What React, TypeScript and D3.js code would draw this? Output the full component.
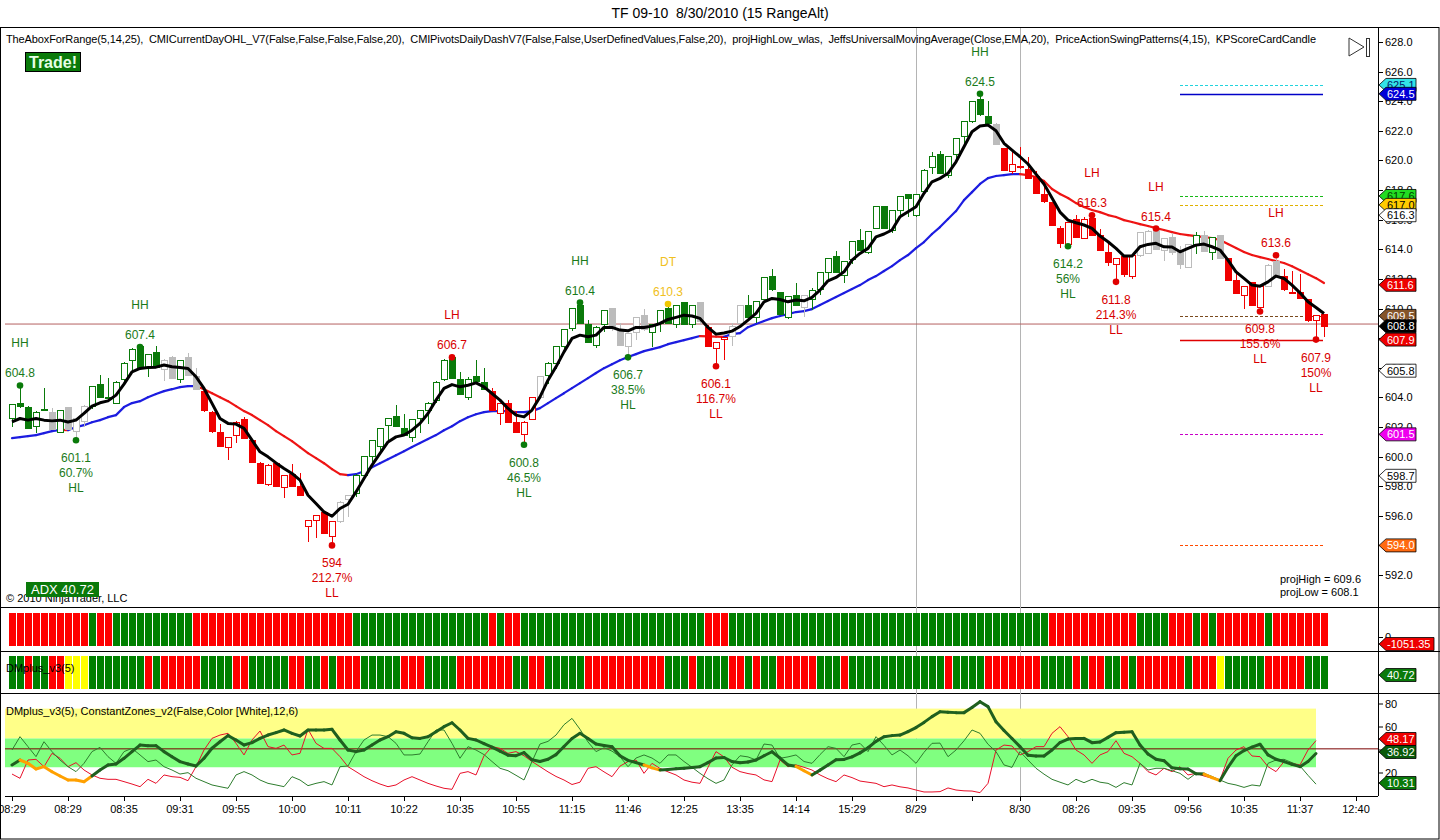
import * as d3 from 'd3';

const FONT = "'Liberation Sans', Arial, sans-serif";

// range bars, one value per bar (165 bars)
const opens = [
  602.6, 603.6, 603.3, 602.0, 603.2, 603.0, 601.6, 603.3, 601.7, 602.4,
  603.4, 604.9, 603.9, 603.6, 605.2, 606.5, 607.4, 606.0, 607.0, 605.9,
  606.7, 605.2, 606.7, 605.4, 604.4, 603.0, 601.6, 600.6, 601.4, 602.5,
  601.1, 599.5, 598.1, 599.5, 597.9, 598.8, 598.0, 595.3, 595.7, 596.2,
  594.6, 595.6, 597.1, 597.5, 598.75, 600.0, 600.7, 602.1, 602.7, 601.9,
  601.3, 602.6, 603.1, 603.8, 605.2, 606.7, 605.2, 604.0, 605.4, 605.0,
  604.4, 602.9, 603.6, 602.3, 601.5, 602.5, 604.0, 605.5, 606.3, 607.4,
  608.65, 610.2, 608.9, 607.5, 608.9, 610.0, 608.6, 607.45, 608.4, 609.5,
  608.4, 609.0, 610.0, 608.9, 610.4, 608.9, 610.4, 608.7, 607.3, 607.9,
  608.1, 609.0, 610.2, 609.4, 610.6, 612.15, 611.1, 609.4, 610.9, 610.1,
  610.6, 611.25, 612.4, 613.5, 612.25, 613.3, 614.6, 613.8, 615.4, 616.9,
  615.25, 616.65, 617.7, 616.25, 617.9, 619.5, 620.4, 619.0, 620.4, 621.6,
  622.6, 624.1, 623.0, 622.45, 620.8, 619.25, 619.6, 619.4, 618.9, 617.7,
  617.15, 615.4, 614.3, 616.0, 614.7, 616.1, 614.9, 613.8, 613.0, 613.5,
  612.15, 613.55, 613.7, 615.3, 613.95, 614.8, 613.8, 612.8, 614.35, 614.95,
  613.8, 614.9, 613.4, 611.9, 610.85, 611.75, 610.1, 611.5, 613.15, 612.15,
  611.1, 611.05, 610.6, 609.2, 609.6,
];
const highs = [
  603.5, 604.8, 603.4, 603.1, 604.6, 603.3, 603.1, 603.3, 602.6, 603.5,
  604.7, 605.5, 605.3, 605.1, 606.4, 607.3, 607.4, 606.9, 607.5, 606.6,
  606.8, 606.5, 607.0, 606.0, 604.5, 603.1, 602.2, 601.3, 602.4, 602.7,
  601.2, 599.6, 599.5, 599.5, 598.7, 599.5, 598.9, 595.7, 596.0, 596.3,
  595.6, 597.0, 597.4, 598.8, 600.0, 601.1, 601.9, 602.6, 603.5, 602.9,
  602.5, 603.1, 603.7, 605.1, 606.6, 606.7, 605.7, 605.4, 606.5, 606.0,
  604.6, 603.6, 603.8, 603.1, 602.4, 604.0, 605.4, 606.4, 607.4, 608.6,
  610.0, 610.4, 609.2, 608.8, 609.9, 610.0, 609.0, 608.3, 609.4, 610.0,
  608.9, 609.9, 610.3, 610.2, 610.4, 610.2, 610.4, 608.9, 607.7, 608.1,
  609.0, 610.2, 610.9, 610.5, 612.1, 612.7, 611.1, 610.8, 611.7, 610.9,
  611.4, 612.4, 613.4, 613.9, 613.2, 614.5, 615.4, 615.2, 616.9, 616.9,
  616.6, 617.6, 617.7, 617.7, 619.4, 620.6, 620.65, 620.3, 621.5, 622.6,
  624.0, 624.5, 624.0, 622.55, 620.8, 620.6, 620.9, 620.25, 619.3, 618.6,
  617.15, 615.6, 615.8, 616.3, 616.2, 616.3, 615.4, 614.4, 613.4, 613.6,
  613.6, 615.1, 615.3, 615.4, 614.7, 615.1, 614.2, 614.3, 615.2, 615.25,
  614.8, 614.9, 613.4, 612.5, 611.5, 611.75, 611.5, 613.0, 613.6, 612.7,
  612.5, 612.3, 610.6, 609.5, 609.6,
];
const lows = [
  602.0, 603.3, 601.9, 601.6, 603.1, 601.8, 601.6, 601.8, 601.1, 602.0,
  603.2, 604.0, 603.8, 603.6, 604.9, 605.8, 606.0, 605.4, 606.0, 605.1,
  605.3, 605.0, 605.5, 604.5, 603.0, 601.6, 600.7, 599.8, 600.9, 601.2,
  599.6, 598.2, 598.0, 598.0, 597.2, 598.0, 597.4, 594.2, 594.5, 594.8,
  594.0, 595.5, 595.9, 597.3, 598.5, 599.6, 600.4, 601.1, 602.0, 601.4,
  601.0, 601.6, 602.2, 603.6, 605.1, 605.3, 604.2, 603.8, 605.0, 604.5,
  603.1, 602.1, 602.3, 601.6, 600.8, 602.5, 603.9, 604.9, 605.9, 607.1,
  608.5, 609.0, 607.7, 607.3, 608.4, 608.5, 607.5, 606.7, 607.9, 608.5,
  607.4, 608.4, 609.0, 608.7, 608.9, 608.7, 608.9, 607.4, 606.1, 606.5,
  607.5, 608.7, 609.4, 609.0, 610.6, 611.2, 609.6, 609.3, 610.2, 609.4,
  609.9, 610.9, 611.9, 612.4, 611.7, 613.0, 613.9, 613.7, 615.4, 615.4,
  615.1, 616.1, 616.2, 616.2, 617.9, 619.1, 619.1, 618.8, 620.0, 621.1,
  622.5, 623.0, 622.5, 621.05, 619.3, 619.1, 619.4, 618.75, 617.8, 617.1,
  615.6, 614.1, 614.2, 614.8, 614.7, 614.9, 613.9, 612.9, 611.8, 612.1,
  612.0, 613.5, 613.7, 614.0, 613.2, 613.6, 612.7, 612.8, 613.7, 613.85,
  613.3, 613.4, 611.9, 611.0, 610.0, 610.2, 609.8, 611.5, 612.1, 611.2,
  611.0, 610.7, 609.1, 607.9, 608.1,
];
const closes = [
  603.5, 603.4, 601.9, 603.0, 603.1, 601.8, 603.1, 601.8, 602.6, 603.4,
  604.7, 604.0, 604.0, 605.0, 606.3, 607.2, 606.0, 606.9, 606.0, 606.5,
  605.3, 606.5, 605.5, 604.5, 603.1, 601.7, 600.7, 601.3, 602.3, 601.2,
  599.6, 598.2, 599.4, 598.0, 598.7, 598.0, 597.4, 595.7, 596.0, 594.8,
  595.6, 596.9, 597.4, 598.75, 600.0, 601.1, 601.9, 602.6, 602.0, 601.4,
  602.5, 603.1, 603.6, 605.0, 606.5, 605.3, 604.2, 605.2, 605.05, 604.5,
  603.1, 603.6, 602.3, 601.6, 602.3, 604.0, 605.4, 606.3, 607.4, 608.6,
  610.0, 609.0, 607.7, 608.7, 609.85, 608.65, 607.5, 608.3, 609.4, 608.55,
  608.9, 609.85, 609.0, 610.2, 608.9, 610.2, 609.1, 607.4, 607.7, 608.05,
  608.8, 610.2, 609.4, 610.5, 612.1, 611.25, 609.6, 610.8, 610.2, 610.9,
  611.2, 612.4, 613.4, 612.4, 613.15, 614.5, 613.9, 615.2, 616.9, 615.4,
  616.6, 617.55, 617.4, 617.7, 619.35, 620.25, 619.1, 620.25, 621.5, 622.6,
  624.0, 623.1, 622.5, 621.05, 619.3, 619.7, 619.5, 618.8, 617.8, 617.2,
  615.6, 614.4, 615.8, 614.8, 616.0, 614.9, 613.9, 613.1, 613.4, 612.3,
  613.55, 615.1, 615.2, 614.0, 614.7, 613.8, 612.95, 614.3, 614.9, 613.85,
  614.8, 613.4, 611.9, 611.0, 611.5, 610.2, 611.5, 612.9, 612.1, 611.25,
  611.05, 610.7, 609.2, 609.5, 608.8,
];
// candle colour per bar: G green, R red, N neutral grey
const candleColors = [
  'GGGGGNGNNN', 'GGGGGGGGGN', 'NGNNRRRRRR', 'RRRRRRRRRR', 'RNNGGGGGGG',
  'GGGGGGGGGG', 'RRRRRRNGGG', 'GGGGGNNNNN', 'GGGGGGNRRR', 'NNGGGGGGGN',
  'GGGGGGGGGG', 'GGGGGGGGGG', 'GGGNRRRRRR', 'RRRRRRRRRR', 'RNNNNNNNGN',
  'GNRRRRRNNR', 'RRRRR',
].join('');

const fastMa = [
  602.34, 602.57, 602.46, 602.57, 602.46, 602.41, 602.46, 602.34, 602.46, 602.91,
  603.41, 603.63, 603.76, 604.15, 604.89, 605.72, 605.95, 606.02, 606.04, 606.18,
  606.06, 606.02, 605.95, 605.39, 604.60, 603.59, 602.57, 602.24, 602.19, 601.90,
  601.11, 600.32, 599.98, 599.57, 599.20, 598.86, 598.41, 597.39, 596.83, 596.26,
  595.97, 596.49, 596.78, 597.61, 598.52, 599.42, 600.21, 600.99, 601.33, 601.45,
  601.78, 602.24, 602.91, 603.81, 604.60, 604.86, 604.71, 604.82, 604.98, 604.71,
  604.26, 603.81, 603.25, 602.80, 602.68, 603.14, 604.03, 605.16, 606.06, 607.07,
  607.98, 608.20, 608.09, 608.20, 608.72, 608.72, 608.54, 608.49, 608.72, 608.72,
  608.81, 608.99, 609.26, 609.40, 609.55, 609.49, 609.33, 608.72, 608.27, 608.34,
  608.47, 608.78, 609.22, 609.67, 610.45, 610.68, 610.61, 610.45, 610.57, 610.52,
  610.75, 611.24, 611.87, 612.10, 612.48, 613.27, 613.72, 614.06, 614.84, 615.03,
  615.30, 616.20, 616.53, 616.87, 617.78, 618.56, 618.79, 619.13, 619.91, 620.93,
  621.94, 622.32, 622.39, 622.01, 621.16, 620.70, 620.25, 619.76, 619.08, 618.41,
  617.46, 616.51, 615.97, 615.79, 615.64, 615.41, 614.89, 614.51, 614.06, 613.54,
  613.54, 614.17, 614.33, 614.40, 614.17, 614.15, 613.83, 614.06, 614.28, 614.35,
  614.17, 613.95, 613.27, 612.48, 612.03, 611.58, 611.51, 611.80, 612.19, 612.03,
  611.58, 611.06, 610.45, 610.07, 609.66,
];
const ema20 = [
  601.24, 601.31, 601.38, 601.45, 601.58, 601.72, 601.80, 601.78, 601.99, 602.12,
  602.32, 602.46, 602.66, 602.80, 603.34, 603.61, 603.74, 604.01, 604.22, 604.42,
  604.55, 604.69, 604.76, 604.76, 604.55, 604.28, 604.01, 603.74, 603.41, 603.07,
  602.80, 602.46, 602.12, 601.72, 601.38, 601.04, 600.64, 600.23, 599.89, 599.55,
  599.15, 598.81, 598.74, 598.81, 599.01, 599.28, 599.55, 599.82, 600.09, 600.36,
  600.64, 600.91, 601.18, 601.45, 601.78, 602.05, 602.39, 602.66, 602.86, 603.00,
  603.07, 603.07, 603.07, 603.00, 603.00, 603.07, 603.27, 603.61, 603.95, 604.28,
  604.62, 604.96, 605.30, 605.64, 605.97, 606.24, 606.51, 606.72, 606.92, 607.12,
  607.26, 607.39, 607.59, 607.73, 607.86, 608.00, 608.14, 608.12, 608.10, 608.09,
  608.27, 608.34, 608.74, 608.95, 609.15, 609.35, 609.49, 609.62, 609.76, 609.82,
  609.96, 610.23, 610.50, 610.77, 611.04, 611.31, 611.58, 611.92, 612.19, 612.53,
  612.86, 613.27, 613.61, 614.08, 614.49, 615.03, 615.50, 616.04, 616.58, 617.32,
  617.86, 618.41, 618.81, 618.95, 619.01, 619.08, 619.08, 619.01, 618.88, 618.61,
  618.07, 617.73, 617.46, 617.12, 616.85, 616.65, 616.51, 616.31, 616.18, 615.97,
  615.84, 615.70, 615.57, 615.43, 615.30, 615.16, 615.03, 614.96, 614.89, 614.82,
  614.76, 614.62, 614.35, 614.08, 613.81, 613.61, 613.47, 613.34, 613.20, 613.07,
  612.86, 612.59, 612.32, 612.05, 611.72,
];

// lower panels
const aboxColors = [
  'RRRRRRRRRR', 'GRRGGGGGGG', 'GGGRRRRRRR', 'RRRRRRRRRR', 'RRRGGGGGGG',
  'GGGGGGGGGG', 'RGRRGGGGGG', 'GGGGGGGGGG', 'GGGGGGGRRR', 'GGGGGGGGGG',
  'GGGGGGGGGG', 'GGGGGGGGGG', 'GGGGGGGGGG', 'RRRRRRRRRR', 'RGGGGRRRGR',
  'GRRRRRRGRR', 'RRRRR',
].join('');
const dmColors = [
  'GGRGGRRYYY', 'GGGGGGGRGR', 'RRRRGGGGRR', 'GGGGGRRGGR', 'GRRRGGGGGR',
  'RRGGGGRRRR', 'RRRGGRRGGG', 'GGRRRRRRRR', 'RRGGGRGGGG', 'RRGRGGRRRR',
  'RGGGRGGGGG', 'GGGGGGGRGG', 'GGRRRRRRRG', 'GGGRGRRGGR', 'GRRRRRRGRR',
  'RYGGGGGRRR', 'RRGGG',
].join('');

const adx = [
  27.0, 31.3, 28.4, 23.5, 25.5, 21.1, 17.4, 13.9, 13.9, 12.4,
  17.4, 22.6, 27.0, 27.8, 32.8, 38.6, 44.3, 43.8, 43.8, 38.6,
  34.2, 29.9, 27.8, 26.1, 32.8, 41.5, 47.2, 52.5, 48.7, 44.3,
  46.4, 50.1, 53.0, 55.1, 57.4, 54.5, 52.2, 57.4, 57.4, 57.4,
  58.0, 48.7, 40.0, 38.6, 40.0, 44.3, 48.7, 51.6, 55.9, 54.5,
  50.7, 50.1, 51.6, 55.9, 60.3, 63.7, 57.4, 50.1, 48.7, 45.5,
  42.5, 39.0, 35.5, 35.1, 37.7, 31.5, 30.0, 32.0, 36.0, 43.0,
  50.0, 54.5, 50.0, 45.2, 44.0, 42.9, 35.0, 31.0, 29.0, 27.0,
  24.5, 22.6, 23.0, 23.7, 24.1, 24.8, 25.5, 29.0, 33.0, 33.5,
  30.0, 29.0, 29.5, 31.3, 35.0, 38.5, 33.0, 27.0, 25.8, 22.0,
  18.3, 22.5, 27.0, 31.5, 31.8, 34.0, 37.5, 42.0, 47.5, 51.5,
  52.5, 53.0, 56.0, 59.5, 64.0, 69.0, 73.3, 72.8, 72.5, 72.5,
  77.0, 82.0, 77.7, 64.6, 57.0, 50.0, 42.9, 35.5, 34.8, 34.8,
  40.0, 46.5, 49.5, 50.1, 50.1, 46.4, 47.0, 51.0, 55.1, 55.5,
  55.9, 44.3, 36.5, 32.0, 30.7, 24.5, 23.7, 23.5, 19.3, 19.1,
  16.0, 13.3, 25.0, 35.0, 39.5, 42.5, 45.0, 35.7, 32.0, 29.9,
  27.5, 25.5, 30.0, 36.92,
];
const diPlus = [
  40.0, 51.6, 42.9, 34.2, 47.2, 38.6, 31.3, 25.5, 21.2, 28.4,
  38.6, 42.3, 34.2, 28.4, 38.6, 41.4, 35.7, 29.9, 31.3, 25.5,
  22.6, 19.1, 20.3, 15.4, 12.5, 9.6, 8.1, 6.7, 18.3, 21.2,
  18.3, 13.9, 11.0, 9.6, 8.1, 16.8, 13.9, 9.0, 11.0, 12.5,
  9.6, 25.5, 26.1, 38.6, 48.7, 53.0, 53.0, 51.6, 45.8, 35.7,
  35.7, 36.5, 47.2, 57.4, 57.4, 45.8, 32.8, 42.9, 40.0, 36.0,
  30.0, 24.1, 22.0, 18.0, 13.9, 30.0, 45.2, 47.5, 53.0, 62.0,
  67.5, 58.0, 47.0, 38.6, 42.0, 39.0, 34.2, 25.5, 33.0, 35.7,
  33.0, 28.4, 35.7, 35.7, 30.0, 25.0, 19.7, 15.0, 11.0, 13.9,
  27.0, 35.0, 34.0, 31.3, 45.2, 44.3, 32.8, 34.0, 35.7, 30.0,
  28.4, 36.0, 42.9, 41.4, 34.2, 44.3, 45.8, 38.6, 51.6, 44.0,
  35.7, 40.0, 35.0, 28.4, 38.0, 45.8, 46.0, 34.2, 40.0, 48.0,
  57.4, 54.5, 45.0, 38.6, 27.0, 24.9, 38.6, 31.3, 24.1, 19.0,
  14.5, 12.0, 9.6, 14.5, 11.6, 14.5, 12.0, 11.0, 7.5, 11.6,
  9.6, 28.4, 22.6, 24.1, 24.1, 22.0, 19.7, 14.5, 19.7, 19.7,
  17.0, 13.9, 11.0, 9.6, 7.5, 9.6, 8.7, 28.4, 31.3, 31.9,
  29.0, 26.1, 18.0, 10.31,
];
const diMinus = [
  19.1, 15.4, 31.3, 31.9, 25.5, 37.1, 32.8, 25.5, 29.0, 22.6,
  18.3, 15.4, 14.5, 14.5, 12.5, 10.4, 8.1, 14.5, 11.0, 18.3,
  16.8, 16.2, 13.3, 25.5, 40.0, 50.1, 53.0, 54.5, 45.8, 35.7,
  48.7, 56.5, 42.9, 41.4, 44.3, 35.7, 37.1, 58.0, 45.8, 41.4,
  41.4, 34.2, 25.5, 21.2, 16.8, 13.3, 10.4, 8.1, 9.6, 13.9,
  16.8, 13.9, 11.0, 8.7, 6.7, 5.8, 19.7, 21.2, 18.3, 35.0,
  43.0, 41.4, 37.1, 38.6, 35.0, 30.0, 25.5, 21.0, 17.0, 13.9,
  10.0, 12.0, 24.1, 25.5, 21.0, 16.8, 26.0, 29.9, 31.3, 19.7,
  28.4, 24.0, 21.0, 18.3, 13.9, 12.0, 11.0, 25.0, 38.6, 34.0,
  25.0, 21.2, 19.5, 18.3, 14.0, 12.5, 31.3, 25.5, 27.0, 25.0,
  22.6, 18.3, 15.0, 12.5, 18.3, 16.0, 13.0, 12.0, 11.0, 8.1,
  9.6, 8.0, 7.0, 5.2, 3.5, 3.5, 3.8, 7.0, 5.2, 4.5,
  4.3, 2.9, 11.0, 40.0, 44.3, 43.5, 35.7, 38.6, 42.9, 42.9,
  54.5, 60.3, 51.6, 40.0, 35.7, 28.4, 35.7, 38.6, 48.1, 37.1,
  34.2, 28.4, 21.2, 18.3, 24.1, 21.2, 25.5, 18.3, 19.7, 17.4,
  15.5, 13.9, 32.8, 40.0, 42.9, 34.8, 34.2, 25.5, 21.2, 29.9,
  28.5, 27.0, 40.0, 48.17,
];
const adxOrangeRanges = [[1, 10], [79, 81], [98, 100], [149, 151]];

const timeTicks: [number, string][] = [
  [0, '08:29'], [7, '08:29'], [14, '08:35'], [21, '09:31'], [28, '09:55'], [35, '10:00'],
  [42, '10:11'], [49, '10:22'], [56, '10:35'], [63, '10:55'], [70, '11:15'], [77, '11:46'],
  [84, '12:25'], [91, '13:35'], [98, '14:14'], [105, '15:29'], [113, '8/29'], [120, ''],
  [126, '8/30'], [133, '08:26'], [140, '09:35'], [147, '09:56'], [154, '10:35'],
  [161, '11:37'], [168, '12:40'],
];
const sessionBreaks = [113, 126];
const priceTicks = d3.range(592, 628.01, 2);
const oscTicks = [20, 40, 60, 80];

const swings = [
  { i: 1, p: 604.8, hi: true, c: 'g', v: '604.8', tag: 'HH' },
  { i: 8, p: 601.1, hi: false, c: 'g', v: '601.1', pct: '60.7%', tag: 'HL' },
  { i: 16, p: 607.4, hi: true, c: 'g', v: '607.4', tag: 'HH' },
  { i: 40, p: 594.0, hi: false, c: 'r', v: '594', pct: '212.7%', tag: 'LL' },
  { i: 55, p: 606.7, hi: true, c: 'r', v: '606.7', tag: 'LH' },
  { i: 64, p: 600.8, hi: false, c: 'g', v: '600.8', pct: '46.5%', tag: 'HL' },
  { i: 71, p: 610.4, hi: true, c: 'g', v: '610.4', tag: 'HH' },
  { i: 77, p: 606.7, hi: false, c: 'g', v: '606.7', pct: '38.5%', tag: 'HL' },
  { i: 82, p: 610.3, hi: true, c: 'y', v: '610.3', tag: 'DT' },
  { i: 88, p: 606.1, hi: false, c: 'r', v: '606.1', pct: '116.7%', tag: 'LL' },
  { i: 121, p: 624.5, hi: true, c: 'g', v: '624.5', tag: 'HH' },
  { i: 132, p: 614.2, hi: false, c: 'g', v: '614.2', pct: '56%', tag: 'HL' },
  { i: 135, p: 616.3, hi: true, c: 'r', v: '616.3', tag: 'LH' },
  { i: 138, p: 611.8, hi: false, c: 'r', v: '611.8', pct: '214.3%', tag: 'LL' },
  { i: 143, p: 615.4, hi: true, c: 'r', v: '615.4', tag: 'LH' },
  { i: 156, p: 609.8, hi: false, c: 'r', v: '609.8', pct: '155.6%', tag: 'LL' },
  { i: 158, p: 613.6, hi: true, c: 'r', v: '613.6', tag: 'LH' },
  { i: 163, p: 607.9, hi: false, c: 'r', v: '607.9', pct: '150%', tag: 'LL' },
];

const projLevels = [
  { p: 625.1, color: '#22d3dd', dash: '3,2' },
  { p: 624.5, color: '#0000c8', dash: '' },
  { p: 617.6, color: '#16b816', dash: '3,2' },
  { p: 617.0, color: '#e0b000', dash: '3,2' },
  { p: 609.5, color: '#7a4a1e', dash: '3,2' },
  { p: 607.9, color: '#e00000', dash: '' },
  { p: 601.5, color: '#c800c8', dash: '3,2' },
  { p: 594.0, color: '#ff4a00', dash: '3,2' },
];
const priceTags = [
  { p: 625.1, text: '625.1', fill: '#33e3e8', color: '#00206a' },
  { p: 624.5, text: '624.5', fill: '#0000d8', color: '#fff' },
  { p: 617.6, text: '617.6', fill: '#22dd22', color: '#004000' },
  { p: 617.0, text: '617.0', fill: '#ffcc00', color: '#000' },
  { p: 616.3, text: '616.3', fill: '#fff', color: '#000' },
  { p: 611.6, text: '611.6', fill: '#ee0000', color: '#fff' },
  { p: 609.5, text: '609.5', fill: '#85552a', color: '#fff' },
  { p: 608.8, text: '608.8', fill: '#000', color: '#fff' },
  { p: 607.9, text: '607.9', fill: '#ee0000', color: '#fff' },
  { p: 605.8, text: '605.8', fill: '#fff', color: '#000' },
  { p: 601.5, text: '601.5', fill: '#ee00ee', color: '#fff' },
  { p: 598.7, text: '598.7', fill: '#fff', color: '#000' },
  { p: 594.0, text: '594.0', fill: '#ff6a10', color: '#fff' },
];
const lastLine = 608.95;

const CANDLE = { G: '#0a7a0a', R: '#f00000', N: '#bcbcbc' } as Record<string, string>;
const BAR = { G: '#008000', R: '#ff0000', Y: '#ffff00' } as Record<string, string>;
const SWING = { g: '#1a7a1a', r: '#d80000', y: '#f0c020' } as Record<string, string>;

const x = d3.scaleLinear().domain([0, 164]).range([12, 1324]);
const yP = d3.scaleLinear().domain([592, 628]).range([575, 42]);
const yO = d3.scaleLinear().domain([0, 80]).range([796, 704]);

const AXIS_X = 1378;

function Tag({ y, text, fill, color }: { y: number; text: string; fill: string; color: string }) {
  const w = 10 + text.length * 6 - 3;
  const x0 = AXIS_X + 1;
  const pts = `${x0},${y} ${x0 + 7},${y - 6.5} ${x0 + w},${y - 6.5} ${x0 + w},${y + 6.5} ${x0 + 7},${y + 6.5}`;
  return (
    <g>
      <polygon points={pts} fill={fill} stroke="#000" strokeWidth={0.8} />
      <text x={x0 + 8} y={y + 4} fontSize={11} fill={color}>{text}</text>
    </g>
  );
}

export default function App() {
  const lineP = d3.line<number>().x((_, i) => x(i)).y((d) => yP(d));
  const lineO = d3.line<number>().x((_, i) => x(i)).y((d) => yO(d));
  const isOrange = (k: number) => adxOrangeRanges.some(([a, b]) => k >= a && k + 1 <= b);

  return (
    <div style={{ position: 'absolute', left: 0, top: 0, width: 1440, height: 840, background: '#fff' }}>
      <svg width={1440} height={840} style={{ display: 'block', fontFamily: FONT }}>
        <rect width={1440} height={840} fill="#fff" />
        <text x={720} y={18} fontSize={14} textAnchor="middle" style={{ whiteSpace: 'pre' }}>
          {'TF 09-10  8/30/2010 (15 RangeAlt)'}
        </text>

        {/* frames */}
        <rect x={0.5} y={27.5} width={1438.5} height={811.5} fill="none" stroke="#000" />
        {[607, 651, 693].map((yy) => (
          <line key={yy} x1={0} x2={1440} y1={yy + 0.5} y2={yy + 0.5} stroke="#000" />
        ))}
        <line x1={AXIS_X + 0.5} x2={AXIS_X + 0.5} y1={27} y2={796} stroke="#000" />
        <line x1={5} x2={AXIS_X} y1={796.5} y2={796.5} stroke="#000" />

        {/* session breaks */}
        {sessionBreaks.map((i) => (
          <line key={i} x1={Math.round(x(i)) + 0.5} x2={Math.round(x(i)) + 0.5} y1={28} y2={796} stroke="#b4b4b4" />
        ))}

        {/* indicator text */}
        <text x={6} y={43} fontSize={11} style={{ whiteSpace: 'pre' }} textLength={1310} lengthAdjust="spacing">
          {'TheAboxForRange(5,14,25),  CMICurrentDayOHL_V7(False,False,False,False,20),  CMIPivotsDailyDashV7(False,False,UserDefinedValues,False,20),  projHighLow_wlas,  JeffsUniversalMovingAverage(Close,EMA,20),  PriceActionSwingPatterns(4,15),  KPScoreCardCandle'}
        </text>
        <rect x={25.5} y={52.5} width={55} height={19} fill="#0a7a0a" stroke="#000" />
        <text x={29} y={68} fontSize={16} fontWeight="bold" fill="#e6ffe6">Trade!</text>
        <polygon points="1349,38 1349,56 1364,47" fill="none" stroke="#333" />
        <rect x={1366.5} y={38.5} width={3} height={18} fill="none" stroke="#333" />

        {/* last price line */}
        <line x1={5} x2={AXIS_X} y1={yP(lastLine)} y2={yP(lastLine)} stroke="#b46060" />

        {/* projection levels */}
        {projLevels.map((l) => (
          <line key={l.p} x1={x(146)} x2={x(164) - 1} y1={Math.round(yP(l.p)) + 0.5} y2={Math.round(yP(l.p)) + 0.5}
            stroke={l.color} strokeDasharray={l.dash || undefined} strokeWidth={l.dash ? 1 : 1.3} />
        ))}

        {/* EMA 20 */}
        {ema20.slice(1).map((v, k) => (
          <line key={k} x1={x(k)} y1={yP(ema20[k])} x2={x(k + 1)} y2={yP(v)}
            stroke={v >= ema20[k] ? '#1c1ce0' : '#ee1414'} strokeWidth={2.2} strokeLinecap="round" />
        ))}

        {/* candles */}
        {opens.map((o, i) => {
          const c = closes[i];
          const col = CANDLE[candleColors[i]];
          const up = c > o;
          const cx = Math.round(x(i)) + 0.5;
          const top = yP(Math.max(o, c));
          const bot = yP(Math.min(o, c));
          return (
            <g key={i} shapeRendering="crispEdges">
              <line x1={cx} x2={cx} y1={yP(highs[i])} y2={yP(lows[i])} stroke={col} />
              <rect x={cx - 3} y={top} width={6} height={Math.max(1, bot - top)}
                fill={up ? '#fff' : col} stroke={col} />
            </g>
          );
        })}

        {/* fast MA */}
        <path d={lineP(fastMa) || ''} fill="none" stroke="#000" strokeWidth={3} strokeLinejoin="round" />

        {/* swing labels */}
        {swings.map((s) => {
          const cx = x(s.i);
          const cy = yP(s.p);
          const col = SWING[s.c];
          const dot = s.c === 'y' ? '#f0c800' : s.c === 'g' ? '#0a7a0a' : '#e00000';
          return (
            <g key={s.i} fontSize={12} fill={col} textAnchor="middle">
              <circle cx={cx} cy={cy} r={3.3} fill={dot} />
              {s.hi ? (
                <>
                  <text x={cx} y={cy - 8}>{s.v}</text>
                  <text x={cx} y={cy - 38}>{s.tag}</text>
                </>
              ) : (
                <>
                  <text x={cx} y={cy + 22}>{s.v}</text>
                  <text x={cx} y={cy + 37}>{s.pct}</text>
                  <text x={cx} y={cy + 52}>{s.tag}</text>
                </>
              )}
            </g>
          );
        })}

        <text x={1280} y={583} fontSize={11}>projHigh = 609.6</text>
        <text x={1280} y={596} fontSize={11}>projLow = 608.1</text>
        <text x={6} y={602} fontSize={11}>© 2010 NinjaTrader, LLC</text>
        <rect x={26} y={582} width={73} height={15} fill="#0a7a0a" />
        <text x={31} y={594} fontSize={13} fill="#fff">ADX 40.72</text>

        {/* price axis */}
        {priceTicks.map((p) => (
          <g key={p}>
            <line x1={AXIS_X} x2={AXIS_X + 5} y1={Math.round(yP(p)) + 0.5} y2={Math.round(yP(p)) + 0.5} stroke="#000" />
            <text x={AXIS_X + 7} y={yP(p) + 4} fontSize={11}>{p.toFixed(1)}</text>
          </g>
        ))}
        {priceTags.map((t) => (
          <Tag key={t.text} y={yP(t.p)} text={t.text} fill={t.fill} color={t.color} />
        ))}

        {/* Abox panel */}
        {aboxColors.split('').map((c, i) => (
          <rect key={i} x={Math.round(x(i)) - 3} y={613} width={7} height={33} fill={BAR[c]} />
        ))}
        <line x1={AXIS_X} x2={AXIS_X + 5} y1={637.5} y2={637.5} stroke="#000" />
        <text x={AXIS_X + 7} y={641} fontSize={11}>0</text>
        <Tag y={644} text="-1051.35" fill="#ee0000" color="#fff" />

        {/* DM colour panel */}
        {dmColors.split('').map((c, i) => (
          <rect key={i} x={Math.round(x(i)) - 3} y={656} width={7} height={33} fill={BAR[c]} />
        ))}
        <text x={6} y={672} fontSize={11}>DMplus_v3(5)</text>
        <Tag y={675} text="40.72" fill="#0a7a0a" color="#fff" />

        {/* DM oscillator panel */}
        <rect x={5} y={yO(76)} width={1311} height={yO(50) - yO(76)} fill="#ffff88" />
        <rect x={5} y={yO(50)} width={1311} height={yO(25) - yO(50)} fill="#80ff80" />
        <text x={6} y={715} fontSize={11}>DMplus_v3(5), ConstantZones_v2(False,Color [White],12,6)</text>
        <line x1={5} x2={AXIS_X} y1={yO(41)} y2={yO(41)} stroke="#7a0000" />
        <path d={lineO(diMinus) || ''} fill="none" stroke="#e8102a" strokeWidth={1} />
        <path d={lineO(diPlus) || ''} fill="none" stroke="#2e7d2e" strokeWidth={1} />
        {adx.slice(1).map((v, k) => (
          <line key={k} x1={x(k)} y1={yO(adx[k])} x2={x(k + 1)} y2={yO(v)}
            stroke={isOrange(k) ? '#ffa000' : '#1f5f1f'} strokeWidth={3} strokeLinecap="round" />
        ))}
        {oscTicks.map((t) => (
          <g key={t}>
            <line x1={AXIS_X} x2={AXIS_X + 5} y1={yO(t)} y2={yO(t)} stroke="#000" />
            <text x={AXIS_X + 7} y={yO(t) + 4} fontSize={11}>{t}</text>
          </g>
        ))}
        <Tag y={739} text="48.17" fill="#ee0000" color="#fff" />
        <Tag y={752} text="36.92" fill="#0a5a0a" color="#fff" />
        <Tag y={783} text="10.31" fill="#0a7a0a" color="#fff" />

        {/* time axis */}
        {timeTicks.map(([i, label]) => (
          <g key={i}>
            <line x1={Math.round(x(i)) + 0.5} x2={Math.round(x(i)) + 0.5} y1={796} y2={801} stroke="#000" />
            <text x={x(i)} y={813} fontSize={11} textAnchor="middle">{label}</text>
          </g>
        ))}
      </svg>
    </div>
  );
}
